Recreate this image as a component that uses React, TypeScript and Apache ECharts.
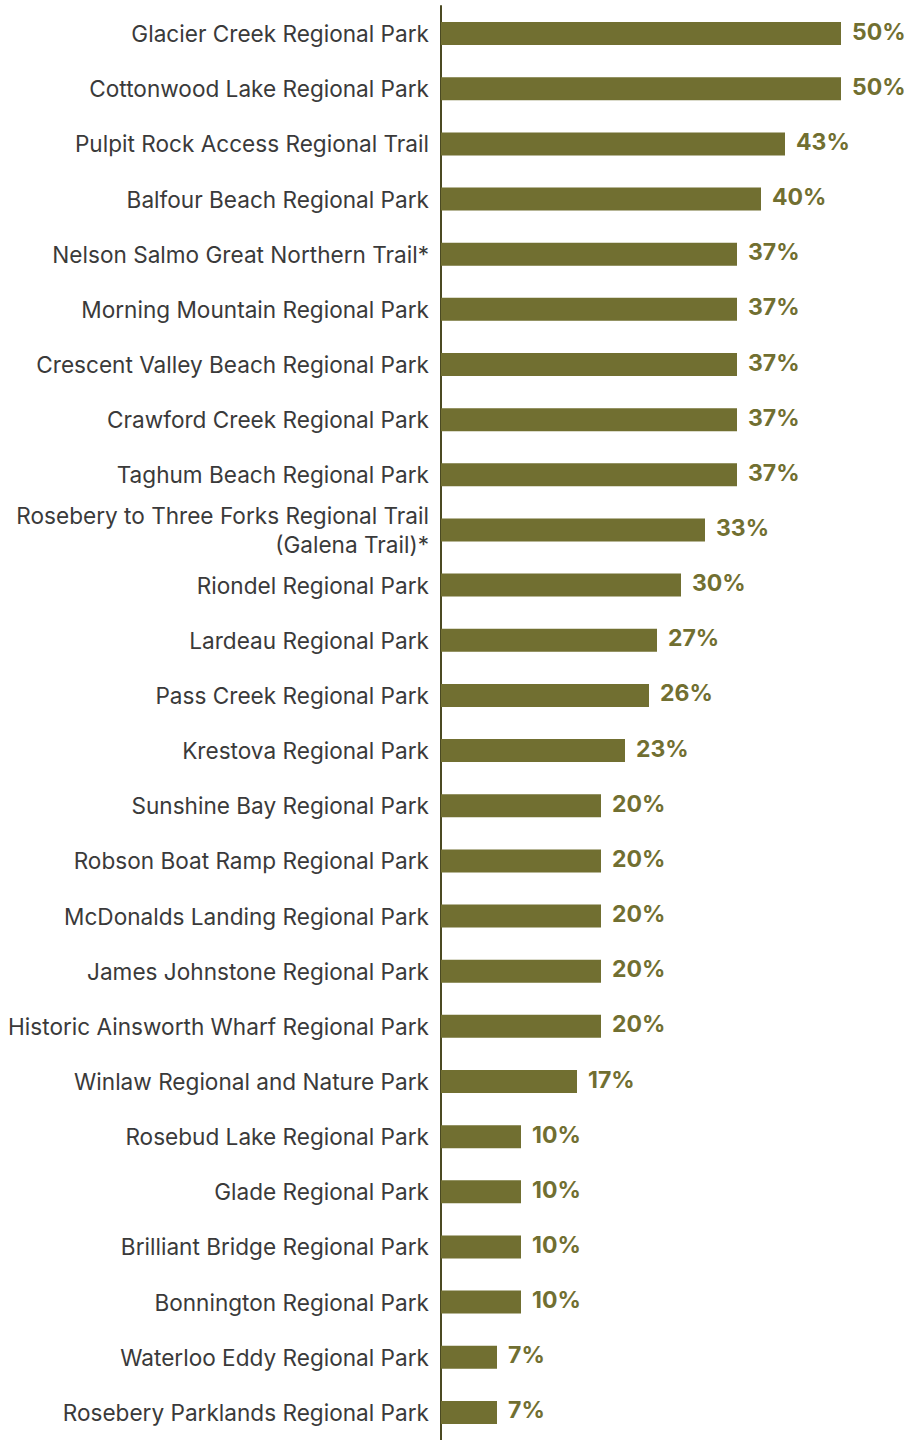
import React, { useEffect, useRef } from "react";
import * as echarts from "echarts";

const categories = [
  "Glacier Creek Regional Park",
  "Cottonwood Lake Regional Park",
  "Pulpit Rock Access Regional Trail",
  "Balfour Beach Regional Park",
  "Nelson Salmo Great Northern Trail*",
  "Morning Mountain Regional Park",
  "Crescent Valley Beach Regional Park",
  "Crawford Creek Regional Park",
  "Taghum Beach Regional Park",
  "Rosebery to Three Forks Regional Trail\n(Galena Trail)*",
  "Riondel Regional Park",
  "Lardeau Regional Park",
  "Pass Creek Regional Park",
  "Krestova Regional Park",
  "Sunshine Bay Regional Park",
  "Robson Boat Ramp Regional Park",
  "McDonalds Landing Regional Park",
  "James Johnstone Regional Park",
  "Historic Ainsworth Wharf Regional Park",
  "Winlaw Regional and Nature Park",
  "Rosebud Lake Regional Park",
  "Glade Regional Park",
  "Brilliant Bridge Regional Park",
  "Bonnington Regional Park",
  "Waterloo Eddy Regional Park",
  "Rosebery Parklands Regional Park",
];

const values = [50, 50, 43, 40, 37, 37, 37, 37, 37, 33, 30, 27, 26, 23, 20, 20, 20, 20, 20, 17, 10, 10, 10, 10, 7, 7];

const BAR = "#716f31";

export default function App() {
  const ref = useRef<HTMLDivElement>(null);
  useEffect(() => {
    document.body.style.margin = "0";
    const chart = echarts.init(ref.current!, null, { renderer: "svg" });
    chart.setOption({
      animation: false,
      grid: { left: 441, right: 83, top: 6, bottom: -1, containLabel: false },
      xAxis: {
        type: "value",
        min: 0,
        max: 50,
        show: false,
      },
      yAxis: {
        type: "category",
        inverse: true,
        data: categories,
        axisLine: { show: true, lineStyle: { color: "#4b4a22", width: 2 } },
        axisTick: { show: false },
        axisLabel: {
          margin: 12,
          color: "#3a3a3a",
          fontFamily: "Inter",
          fontSize: 22.6,
          lineHeight: 29,
          align: "right",
          padding: [16, 0, 0, 0],
        },
      },
      series: [
        {
          type: "bar",
          data: values,
          barWidth: 23,
          itemStyle: { color: BAR },
          label: {
            show: true,
            position: "right",
            distance: 11,
            offset: [0, -2],
            formatter: "{c}%",
            color: BAR,
            fontFamily: "Inter",
            fontWeight: "bold",
            fontSize: 23,
          },
        },
      ],
    });
    return () => chart.dispose();
  }, []);
  return <div ref={ref} style={{ width: 924, height: 1440 }} />;
}
